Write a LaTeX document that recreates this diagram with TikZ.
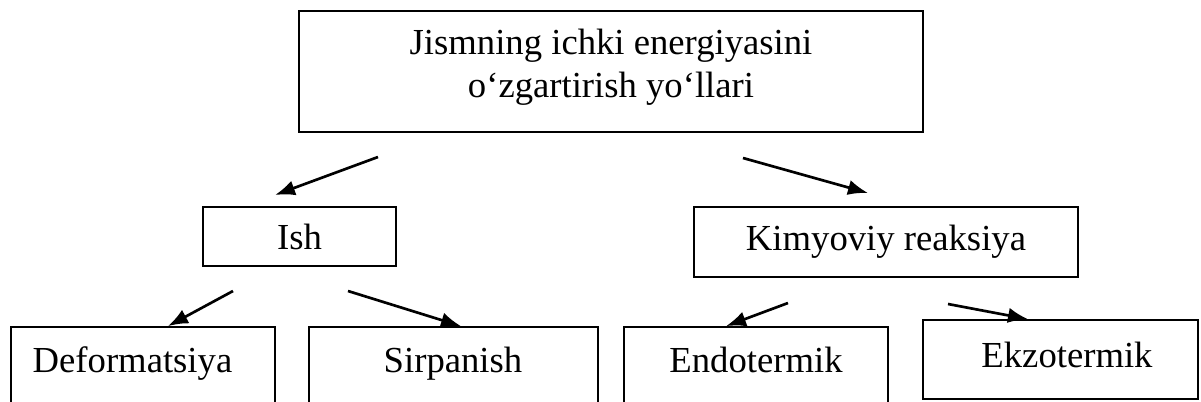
\documentclass[tikz,border=0pt]{standalone}
\usepackage{fontspec}
\setmainfont{Liberation Serif}
\usetikzlibrary{arrows.meta,fit}
\begin{document}
\begin{tikzpicture}[x=0.75pt,y=-0.75pt,
  box/.style={draw,line width=1.3pt,rectangle,inner sep=0pt},
  lbl/.style={font=\fontsize{27.5}{32}\selectfont,inner sep=0pt,align=center},
  arr/.style={line width=2pt,-{Latex[length=15pt,width=11.5pt]}}]
\clip (0,0) rectangle (1201,401);
% boxes
\node[box,fit={(299,11) (923,132)}] (top) {};
\node[box,fit={(203,207) (396,266)}] (ish) {};
\node[box,fit={(694,207) (1078,277)}] (kim) {};
\node[box,fit={(11,327) (275,420)}] (def) {};
\node[box,fit={(309,327) (598,420)}] (sir) {};
\node[box,fit={(624,327) (888,420)}] (endo) {};
\node[box,fit={(923,320) (1198,399)}] (ekzo) {};
% labels
\node[lbl] (ttop) at (611,67.5) {Jismning ichki energiyasini\\o‘zgartirish yo‘llari};
\node[lbl] (tish) at (ish.center) {Ish};
\node[lbl] (tkim) at (kim.center) {Kimyoviy reaksiya};
\node[lbl,anchor=base] (tdef) at (132.5,372) {Deformatsiya};
\node[lbl,anchor=base] (tsir) at (453,372) {Sirpanish};
\node[lbl,anchor=base] (tendo) at (756,372) {Endotermik};
\node[lbl,anchor=base] (tekzo) at (1067,367) {Ekzotermik};
% arrow ends
\coordinate (a1s) at (378,157); \coordinate (a1e) at (275,195);
\coordinate (a2s) at (743,158); \coordinate (a2e) at (868,193);
\coordinate (a3s) at (233,291);
\coordinate (a4s) at (348,291);
\coordinate (a5s) at (788,303);
\coordinate (a6s) at (948,304);
\draw[arr] (a1s) -- (a1e);
\draw[arr] (a2s) -- (a2e);
\draw[arr] (a3s) -- (def.north -| 168,0);
\draw[arr] (a4s) -- (sir.north -| 461,0);
\draw[arr] (a5s) -- (endo.north -| 726,0);
\draw[arr] (a6s) -- (ekzo.north -| 1028,0);
\end{tikzpicture}
\end{document}
